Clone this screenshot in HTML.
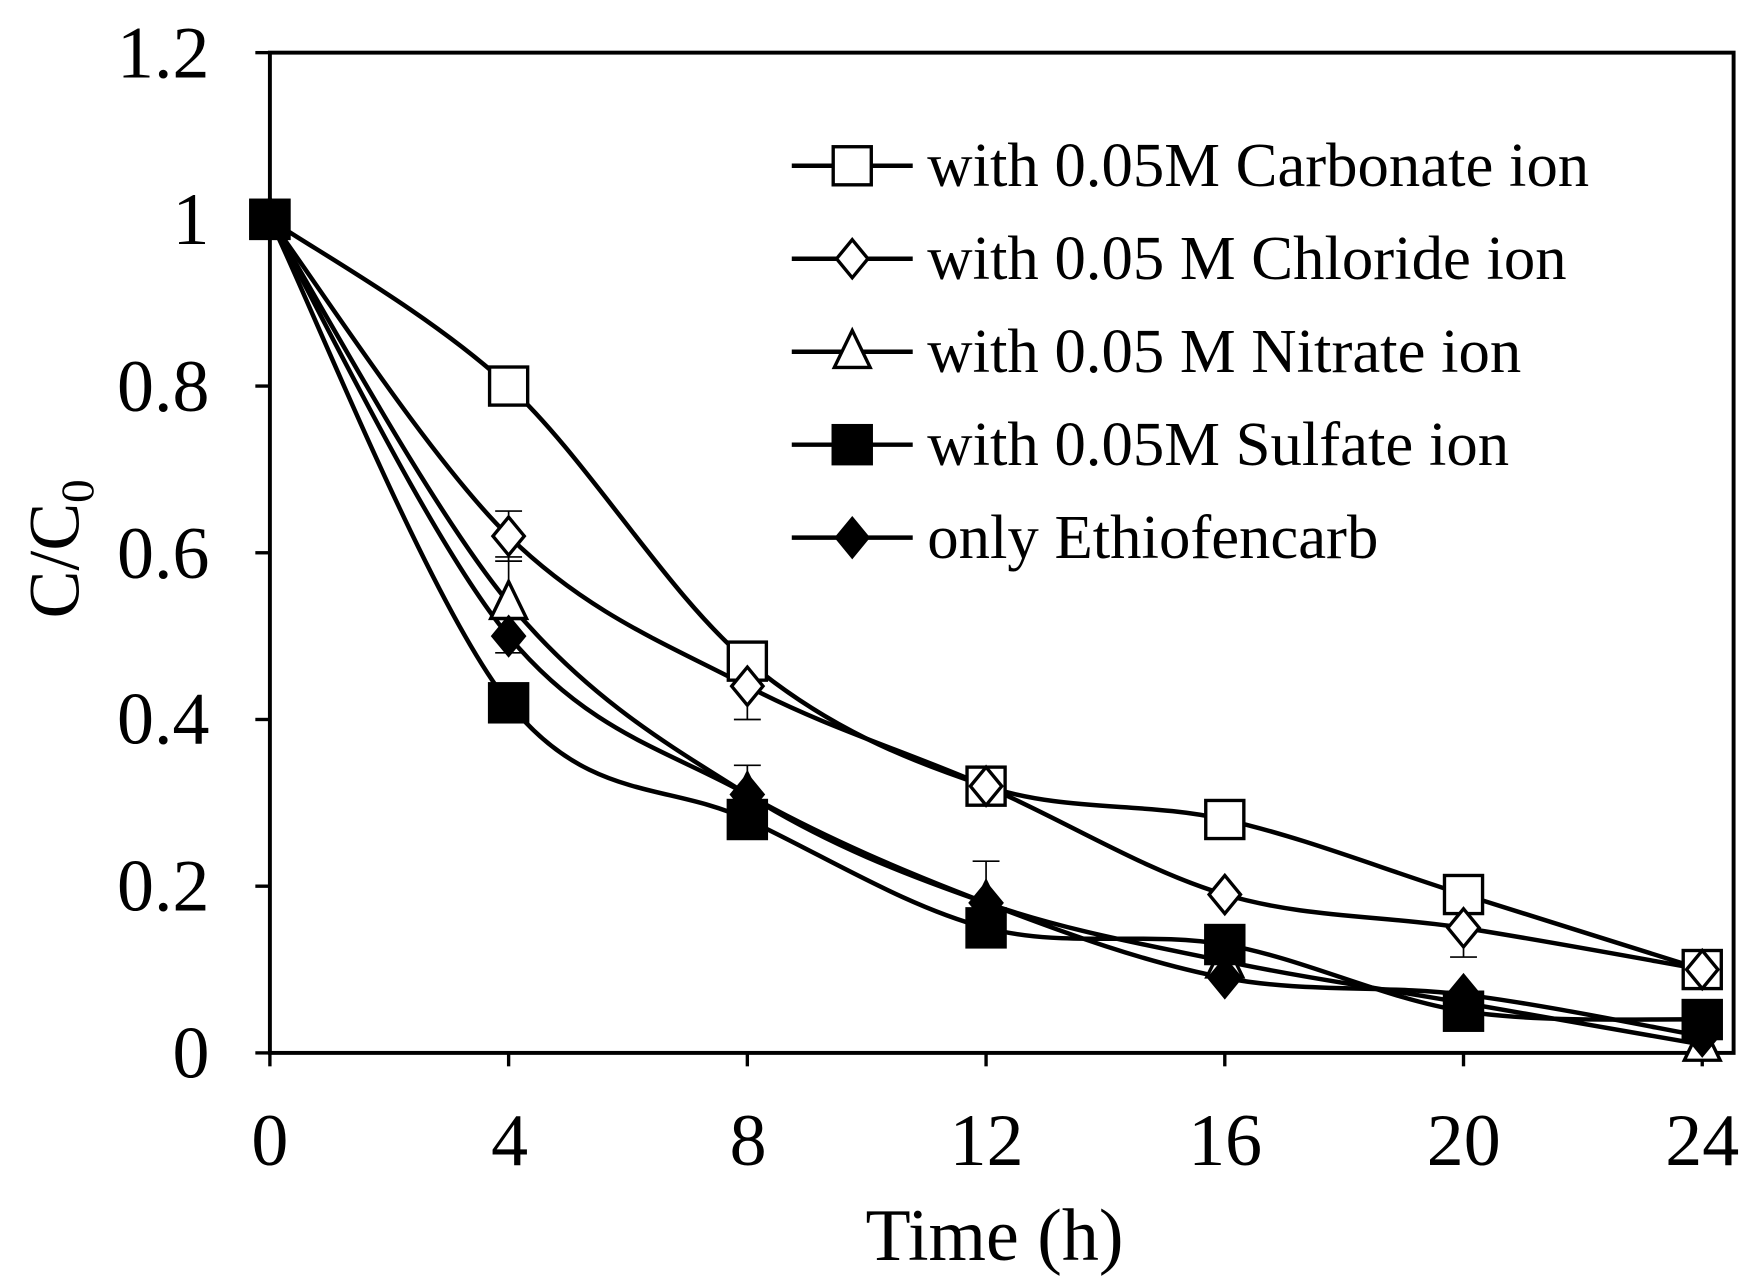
<!DOCTYPE html>
<html><head><meta charset="utf-8"><style>
html,body{margin:0;padding:0;background:#fff;}
svg{display:block;}
text{font-family:"Liberation Serif",serif;fill:#000;}
</style></head><body>
<svg id="s" width="1756" height="1287" viewBox="0 0 1568 1149" preserveAspectRatio="none" xmlns="http://www.w3.org/2000/svg">
<rect x="0" y="0" width="1568" height="1149" fill="#fff"/>
<rect x="241" y="47" width="1307" height="893" fill="none" stroke="#000" stroke-width="3.5"/>
<g id="ticks" stroke="#000" stroke-width="3"></g>
<g font-size="66" text-anchor="end">
<text x="187" y="962">0</text>
<text x="187" y="813">0.2</text>
<text x="187" y="664">0.4</text>
<text x="187" y="516">0.6</text>
<text x="187" y="367">0.8</text>
<text x="187" y="218">1</text>
<text x="187" y="69">1.2</text>
</g>
<g font-size="66" text-anchor="middle">
<text x="241" y="1040">0</text>
<text x="455" y="1040">4</text>
<text x="668" y="1040">8</text>
<text x="881" y="1040">12</text>
<text x="1094" y="1040">16</text>
<text x="1307" y="1040">20</text>
<text x="1520" y="1040">24</text>
</g>
<text x="888" y="1125" font-size="66" text-anchor="middle">Time (h)</text>
<text transform="translate(70,490) rotate(-90)" font-size="64" text-anchor="middle">C/C<tspan font-size="42" dy="13">0</tspan></text>
<g id="err" stroke="#000" stroke-width="1.5"></g>
<g id="lines" fill="none" stroke="#000" stroke-width="4"></g>
<g id="marks" stroke="#000" stroke-width="3"></g>
<g id="leg" font-size="56"></g>
</svg>
<script>
var NS="http://www.w3.org/2000/svg";
function X(t){return 241+t*(1279/24);}
function Y(v){return 940-v*(893/1.2);}
function el(p,n,a){var e=document.createElementNS(NS,n);for(var k in a)e.setAttribute(k,a[k]);p.appendChild(e);return e;}
var tk=document.getElementById('ticks');
for(var i=0;i<=6;i++){var y=Y(i*0.2);el(tk,'line',{x1:228,y1:y,x2:241,y2:y});}
for(var i=0;i<=6;i++){var x=X(i*4);el(tk,'line',{x1:x,y1:940,x2:x,y2:952});}
var T=[0,4,8,12,16,20,24];
var S=[
{d:[1,.8,.47,.32,.28,.19,.10],m:'sq',f:'#fff',name:'with 0.05M Carbonate ion'},
{d:[1,.62,.44,.32,.19,.15,.10],m:'di',f:'#fff',name:'with 0.05 M Chloride ion'},
{d:[1,.54,.31,.18,.11,.06,.01],m:'tr',f:'#fff',name:'with 0.05 M Nitrate ion'},
{d:[1,.42,.28,.15,.13,.05,.04],m:'sq',f:'#000',name:'with 0.05M Sulfate ion'},
{d:[1,.50,.31,.18,.09,.07,.02],m:'di',f:'#000',name:'only Ethiofencarb'}];
var er=document.getElementById('err');
[[4,.59,.65],[8,.40,.48],[20,.115,.185],[4,.50,.595],[8,.30,.345],[12,.15,.23],[4,.48,.52]].forEach(function(e){
var x=X(e[0]);el(er,'line',{x1:x,y1:Y(e[1]),x2:x,y2:Y(e[2])});
el(er,'line',{x1:x-12,y1:Y(e[2]),x2:x+12,y2:Y(e[2])});el(er,'line',{x1:x-12,y1:Y(e[1]),x2:x+12,y2:Y(e[1])});});
var ln=document.getElementById('lines'),mk=document.getElementById('marks'),lg=document.getElementById('leg');
function marker(m,x,y,f){
if(m=='sq')el(mk,'rect',{x:x-17,y:y-17,width:34,height:34,fill:f});
else if(m=='di')el(mk,'polygon',{points:(x)+','+(y-17)+' '+(x+14)+','+y+' '+x+','+(y+17)+' '+(x-14)+','+y,fill:f});
else el(mk,'polygon',{points:x+','+(y-19)+' '+(x+16)+','+(y+14)+' '+(x-16)+','+(y+14),fill:f});}
S.forEach(function(s,si){
var P=s.d.map(function(v,i){return [X(T[i]),Y(v)];});
var d='M'+P[0][0]+','+P[0][1];
for(var i=0;i<P.length-1;i++){
var p0=P[i-1]||P[i],p1=P[i],p2=P[i+1],p3=P[i+2]||P[i+1];
var c1=[p1[0]+(p2[0]-p0[0])/6,p1[1]+(p2[1]-p0[1])/6],c2=[p2[0]-(p3[0]-p1[0])/6,p2[1]-(p3[1]-p1[1])/6];
d+=' C'+c1+' '+c2+' '+p2;}
el(ln,'path',{d:d});
P.forEach(function(p){marker(s.m,p[0],p[1],s.f);});
var ly=148+si*83;
el(ln,'line',{x1:707,y1:ly,x2:815,y2:ly});
marker(s.m,761,ly,s.f);
var t=el(lg,'text',{x:828,y:ly+18});t.textContent=s.name;});
</script>
</body></html>
